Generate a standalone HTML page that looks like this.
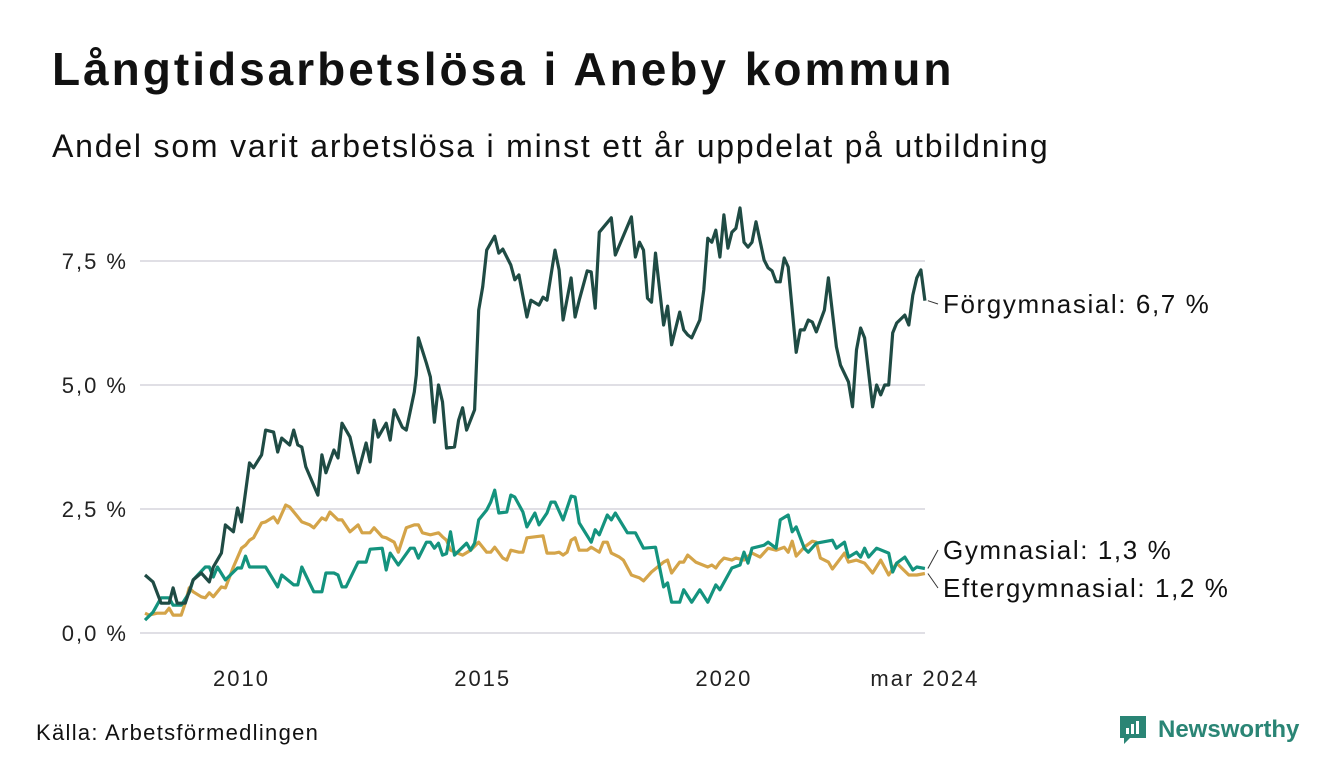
<!DOCTYPE html>
<html><head><meta charset="utf-8">
<style>
body{margin:0;background:#fff;font-family:"Liberation Sans",sans-serif;color:#111;}
#wrap{position:relative;width:1340px;height:780px;overflow:hidden;}
h1{position:absolute;left:52px;top:42px;margin:0;font-size:46px;font-weight:bold;letter-spacing:3px;}
.sub{position:absolute;left:52px;top:128px;font-size:32px;letter-spacing:1.8px;}
.src{position:absolute;left:36px;top:720px;font-size:22px;letter-spacing:1.3px;}
.logo{position:absolute;left:1118px;top:714px;display:flex;align-items:center;gap:10px;color:#2a8575;font-weight:bold;font-size:24px;}
</style></head><body>
<div id="wrap">
<h1>Långtidsarbetslösa i Aneby kommun</h1>
<div class="sub">Andel som varit arbetslösa i minst ett år uppdelat på utbildning</div>
<svg id="chart" width="1340" height="780" style="position:absolute;left:0;top:0"></svg>
<div class="src">Källa: Arbetsförmedlingen</div>
<div class="logo">
<svg width="30" height="32" viewBox="0 0 30 32"><path d="M2 2h26v22H12l-6 6v-6H2z" fill="#2a8575"/><rect x="8" y="14" width="3" height="6" fill="#fff"/><rect x="13" y="10" width="3" height="10" fill="#fff"/><rect x="18" y="7" width="3" height="13" fill="#fff"/></svg>
<span>Newsworthy</span></div>
</div>
<script>
// [months since Jan 2008, value %]
const forgData=[[0,1.17],[2,1.03],[4,0.60],[6,0.60],[7,0.91],[8,0.60],[10,0.60],[12,1.07],[14,1.21],[16,1.03],[17,1.33],[19,1.61],[20,2.18],[22,2.04],[23,2.52],[24,2.24],[26,3.43],[27,3.33],[29,3.59],[30,4.09],[32,4.05],[33,3.65],[34,3.93],[36,3.79],[37,4.09],[38,3.79],[39,3.75],[40,3.35],[43,2.78],[44,3.59],[45,3.23],[47,3.69],[48,3.53],[49,4.23],[51,3.95],[53,3.23],[55,3.83],[56,3.45],[57,4.29],[58,3.95],[60,4.23],[61,3.89],[62,4.50],[64,4.15],[65,4.09],[67,4.86],[67.5,5.20],[68,5.95],[70,5.44],[71,5.16],[72,4.25],[73,5.00],[74,4.66],[75,3.73],[77,3.75],[78,4.29],[79,4.54],[80,4.09],[82,4.50],[83,6.51],[84,6.98],[85,7.72],[87,8.00],[88,7.66],[89,7.74],[91,7.42],[92,7.12],[93,7.22],[95,6.37],[96,6.71],[98,6.61],[99,6.77],[100,6.71],[102,7.72],[103,7.32],[104,6.31],[106,7.16],[107,6.37],[108,6.71],[110,7.30],[111,7.28],[112,6.55],[113,8.08],[116,8.37],[117,7.62],[121,8.39],[122,7.58],[123,7.88],[124,7.72],[125,6.75],[126,6.67],[127,7.66],[129,6.21],[130,6.59],[131,5.81],[133,6.47],[134,6.11],[135,6.01],[136,5.95],[138,6.31],[139,6.92],[140,7.96],[141,7.88],[142,8.12],[143,7.58],[144,8.43],[145,7.76],[146,8.08],[147,8.16],[148,8.57],[149,7.88],[150,7.78],[151,7.88],[152,8.29],[154,7.52],[155,7.36],[156,7.30],[157,7.08],[158,7.08],[159,7.56],[160,7.38],[162,5.66],[163,6.11],[164,6.11],[165,6.31],[166,6.27],[167,6.07],[169,6.51],[170,7.16],[172,5.77],[173,5.40],[175,5.06],[176,4.56],[177,5.71],[178,6.15],[179,5.95],[181,4.56],[182,5.00],[183,4.80],[184,5.00],[185,5.00],[186,6.05],[187,6.25],[189,6.41],[190,6.21],[191,6.81],[192,7.16],[193,7.32],[194,6.70]];
const gymData=[[0,0.26],[2,0.42],[4,0.71],[6,0.71],[7,0.56],[9,0.56],[11,0.81],[12,1.07],[15,1.33],[16,1.33],[17,1.13],[18,1.33],[20,1.07],[23,1.31],[24,1.31],[25,1.55],[26,1.33],[30,1.33],[33,0.93],[34,1.17],[37,0.97],[38,0.97],[39,1.33],[42,0.83],[44,0.83],[45,1.21],[47,1.21],[48,1.17],[49,0.93],[50,0.93],[53,1.43],[55,1.43],[56,1.69],[59,1.71],[60,1.27],[61,1.61],[63,1.37],[66,1.71],[67,1.71],[68,1.51],[70,1.83],[71,1.83],[72,1.71],[73,1.81],[74,1.57],[75,1.60],[76,2.04],[77,1.57],[80,1.81],[81,1.67],[82,1.81],[83,2.28],[85,2.48],[86,2.64],[87,2.88],[88,2.42],[90,2.44],[91,2.78],[92,2.74],[94,2.44],[95,2.14],[97,2.42],[98,2.18],[100,2.42],[101,2.64],[102,2.64],[104,2.28],[106,2.76],[107,2.74],[108,2.22],[111,1.83],[112,2.08],[113,1.98],[115,2.38],[116,2.28],[117,2.42],[120,2.02],[122,2.02],[124,1.71],[127,1.73],[129,0.93],[130,1.01],[131,0.62],[133,0.62],[134,0.87],[136,0.62],[138,0.87],[140,0.62],[142,0.97],[143,0.87],[146,1.31],[148,1.37],[149,1.63],[150,1.41],[151,1.71],[154,1.77],[155,1.83],[157,1.71],[158,2.28],[160,2.38],[161,2.04],[162,2.14],[164,1.71],[165,1.63],[167,1.81],[171,1.87],[172,1.71],[174,1.83],[175,1.53],[177,1.63],[178,1.53],[179,1.71],[180,1.53],[182,1.71],[185,1.61],[186,1.23],[187,1.41],[189,1.53],[191,1.27],[192,1.33],[194,1.30]];
const eftData=[[0,0.40],[1,0.36],[3,0.40],[5,0.40],[6,0.50],[7,0.36],[9,0.36],[10,0.60],[11,0.91],[12,0.83],[14,0.73],[15,0.71],[16,0.81],[17,0.73],[19,0.93],[20,0.91],[22,1.33],[24,1.71],[25,1.77],[26,1.87],[27,1.92],[29,2.22],[30,2.24],[32,2.34],[33,2.22],[35,2.58],[36,2.54],[38,2.34],[39,2.24],[41,2.18],[42,2.12],[44,2.32],[45,2.28],[46,2.44],[48,2.28],[49,2.28],[51,2.04],[53,2.18],[54,2.02],[56,2.02],[57,2.12],[59,1.94],[60,1.92],[62,1.83],[63,1.63],[65,2.12],[67,2.18],[68,2.18],[69,2.02],[71,1.98],[73,2.02],[74,1.94],[75,1.87],[76,1.67],[79,1.57],[81,1.67],[83,1.83],[85,1.63],[86,1.63],[87,1.73],[89,1.51],[90,1.47],[91,1.67],[93,1.63],[94,1.63],[95,1.92],[97,1.94],[99,1.96],[100,1.61],[102,1.61],[103,1.63],[104,1.57],[105,1.63],[106,1.87],[107,1.92],[108,1.67],[110,1.67],[111,1.73],[113,1.63],[114,1.83],[115,1.83],[116,1.61],[118,1.53],[119,1.47],[121,1.17],[123,1.11],[124,1.05],[126,1.23],[129,1.43],[130,1.47],[131,1.21],[133,1.43],[134,1.43],[135,1.57],[137,1.43],[140,1.33],[141,1.37],[142,1.31],[143,1.43],[144,1.51],[146,1.47],[147,1.51],[149,1.47],[151,1.61],[153,1.53],[155,1.71],[157,1.67],[159,1.73],[160,1.63],[161,1.85],[162,1.55],[164,1.73],[166,1.85],[167,1.83],[168,1.51],[170,1.43],[171,1.29],[174,1.61],[175,1.43],[177,1.47],[179,1.41],[181,1.21],[183,1.47],[185,1.17],[187,1.41],[190,1.17],[192,1.17],[194,1.20]];
const yTicks=[0,2.5,5,7.5];
const yTickLabels=["0,0 %","2,5 %","5,0 %","7,5 %"];
const xTickMonths=[24,84,144,194];
const xTickLabels=["2010","2015","2020","mar 2024"];

const svg=document.getElementById('chart');
const NS='http://www.w3.org/2000/svg';
const X0=145,XPM=4.02,Y0=633,YPP=49.6;
const xs=m=>X0+m*XPM, ys=v=>Y0-v*YPP;
function el(t,a){const e=document.createElementNS(NS,t);for(const k in a)e.setAttribute(k,a[k]);svg.appendChild(e);return e;}
yTicks.forEach((v,i)=>{
  const g=el('line',{x1:140,x2:925,y1:ys(v),y2:ys(v),stroke:'#e0dfe5','stroke-width':2});
  
  
  const t=el('text',{x:128,y:ys(v)+8,'text-anchor':'end','font-size':22,'letter-spacing':2,fill:'#222','font-family':'Liberation Sans, sans-serif'});
  t.textContent=yTickLabels[i];
  
  
});
xTickMonths.forEach((m,i)=>{
  const t=el('text',{x:xs(m),y:686,'text-anchor':'middle','font-size':22,'letter-spacing':2,fill:'#222','font-family':'Liberation Sans, sans-serif'});
  t.textContent=xTickLabels[i];
  
  
});
function line(data,color,name){
  const d=data.map((p,i)=>(i?'L':'M')+xs(p[0]).toFixed(1)+' '+ys(p[1]).toFixed(1)).join(' ');
  const p=el('path',{d:d,fill:'none',stroke:color,'stroke-width':3.2,'stroke-linejoin':'round'});
  
  
}
line(eftData,'#d4a449','line-eftergymnasial');
line(gymData,'#14937e','line-gymnasial');
line(forgData,'#1f4b44','line-forgymnasial');
function label(v,ly,txt,name){
  const lastX=xs(194);
  const l=el('line',{x1:lastX+3,y1:ys(v),x2:938,y2:ly-9,stroke:'#333','stroke-width':1});
  
  
  const t=el('text',{x:943,y:ly,'font-size':26,'letter-spacing':1.6,fill:'#111','font-family':'Liberation Sans, sans-serif'});
  t.textContent=txt;
  
  
}
label(forgData[forgData.length-1][1],313,'Förgymnasial: 6,7 %','label-forgymnasial');
label(gymData[gymData.length-1][1],559,'Gymnasial: 1,3 %','label-gymnasial');
label(eftData[eftData.length-1][1],597,'Eftergymnasial: 1,2 %','label-eftergymnasial');
</script>
</body></html>
